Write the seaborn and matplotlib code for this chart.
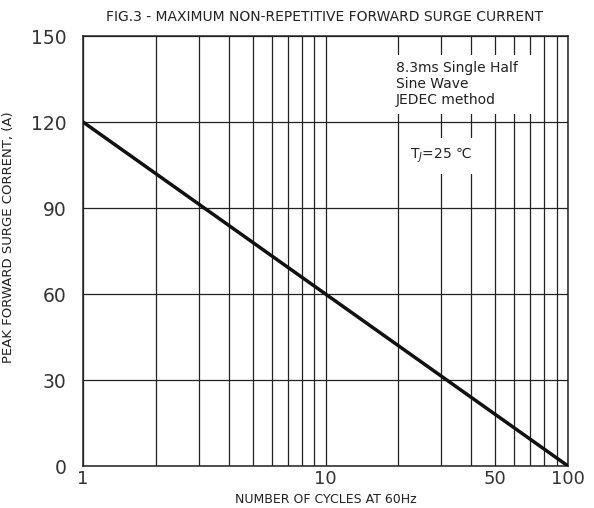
import matplotlib
matplotlib.use("Agg")
import matplotlib.pyplot as plt
from matplotlib.patches import Rectangle
import seaborn as sns
import pandas as pd

# surge current rating vs number of cycles
cycles = [1, 10, 100]
surge_current = [120, 60, 0]

x_major = [1, 10, 50, 100]
x_minor = [2, 3, 4, 5, 6, 7, 8, 9, 20, 30, 40, 60, 70, 80, 90]
y_ticks = [0, 30, 60, 90, 120, 150]

sns.set_style("white")
plt.rcParams['font.family'] = ['DejaVu Sans', 'Noto Sans CJK SC']

df = pd.DataFrame({"cycles": cycles, "current": surge_current})

fig = plt.figure(figsize=(5.94, 5.08), dpi=100)
ax = fig.add_axes([83 / 594, 1 - 466 / 508, 485 / 594, 430 / 508])

sns.lineplot(data=df, x="cycles", y="current", color="#111111",
             linewidth=2.5, ax=ax, zorder=5)

ax.set_xscale("log")
ax.set_xlim(1, 100)
ax.set_ylim(0, 150)
ax.set_xticks(x_major)
ax.set_xticklabels([str(v) for v in x_major])
ax.set_xticks(x_minor, minor=True)
ax.set_xticklabels([], minor=True)
ax.set_yticks(y_ticks)

ax.grid(True, which="both", axis="x", color="#222222", linewidth=0.9)
ax.grid(True, which="major", axis="y", color="#222222", linewidth=0.9)
ax.tick_params(axis="both", which="both", length=0, labelsize=13.5,
               labelcolor="#333333")
ax.tick_params(axis="x", pad=3, labelsize=13)
ax.tick_params(axis="y", pad=12)

for s in ax.spines.values():
    s.set_color("#222222")
    s.set_linewidth(1.1)

ax.set_xlabel("NUMBER OF CYCLES AT 60Hz", fontsize=9, color="#222222",
              va="center")
ax.xaxis.set_label_coords(0.5, -0.077)
ax.set_ylabel("PEAK FORWARD SURGE CORRENT, (A)", fontsize=9.5, color="#222222")
ax.yaxis.set_label_coords(-0.14, 0.533)

fig.text(325 / 594, 1 - 17 / 508, "FIG.3 - MAXIMUM NON-REPETITIVE FORWARD SURGE CURRENT",
         ha="center", va="center", fontsize=10, color="#222222")

# white masks behind the notes, so the grid breaks around them
ax.add_patch(Rectangle((0.633, 0.819), 0.305, 0.137, transform=ax.transAxes,
                       facecolor="white", edgecolor="none", zorder=3))
ax.add_patch(Rectangle((0.665, 0.679), 0.165, 0.084, transform=ax.transAxes,
                       facecolor="white", edgecolor="none", zorder=3))

ax.text(0.645, 0.941, "8.3ms Single Half\nSine Wave\nJEDEC method",
        transform=ax.transAxes, ha="left", va="top", fontsize=10,
        color="#222222", linespacing=1.15, zorder=4)
ax.text(0.674, 0.723, "T$_J$=25 ℃", transform=ax.transAxes, ha="left",
        va="center", fontsize=10, color="#222222", zorder=4)

fig.savefig("out.png", dpi=100)
plt.close(fig)
